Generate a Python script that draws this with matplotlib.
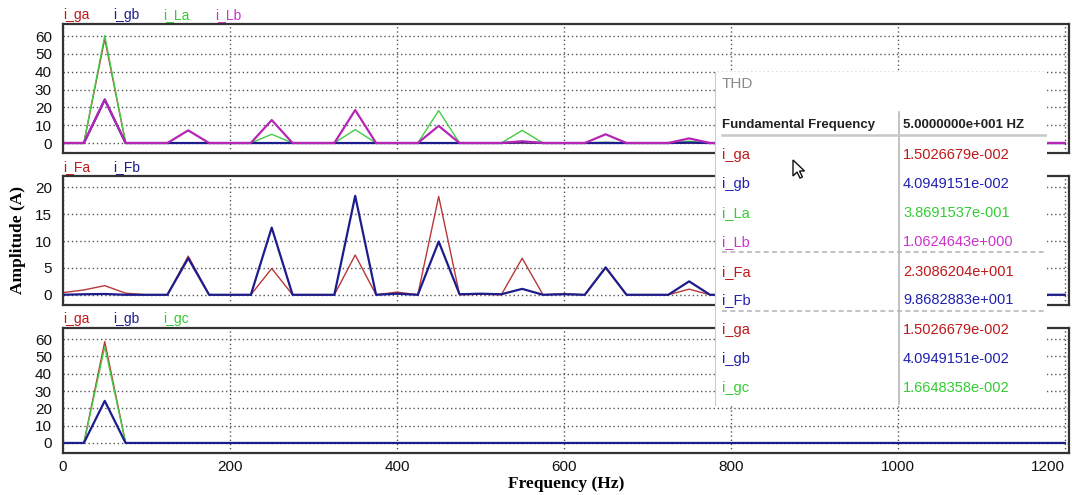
import numpy as np
import matplotlib
matplotlib.use("Agg")
import matplotlib.pyplot as plt
from matplotlib.patches import Polygon

plt.rcParams['font.family'] = ['Liberation Sans', 'DejaVu Sans']

# frequency axis, 25 Hz steps from 0 to 1200
freq = np.arange(0, 1201, 25)

# top panel
i_ga1 = [0, 0, 58.5, 0, 0, 0, 0, 0, 0, 0, 0, 0, 0, 0, 0, 0, 0, 0, 0, 0, 0, 0, 0, 0, 0,
         0, 0, 0, 0, 0, 0, 0, 0, 0, 0, 0, 0, 0, 0, 0, 0, 0, 0, 0, 0, 0, 0, 0, 0]
i_gb1 = [0, 0, 24.3, 0, 0, 0, 0, 0, 0, 0, 0, 0, 0, 0, 0, 0, 0, 0, 0, 0, 0, 0, 0.4, 0, 0,
         0, 0, 0, 0, 0, 0.2, 0, 0, 0, 0, 0, 0, 0, 0, 0, 0, 0, 0, 0, 0, 0, 0, 0, 0]
i_La1 = [0, 0, 60.3, 0, 0, 0, 0, 0, 0, 0, 4.9, 0, 0, 0, 7.5, 0, 0, 0, 18.2, 0, 0, 0, 7.1, 0, 0,
         0, 0.5, 0, 0, 0, 1.0, 0, 0, 0, 0, 0, 0, 0, 0, 0, 0, 0, 0, 0, 0, 0, 0, 0, 0]
i_Lb1 = [0, 0, 24.5, 0, 0, 0, 7.1, 0, 0, 0, 12.9, 0, 0, 0, 18.5, 0, 0, 0, 9.6, 0, 0, 0, 1.0, 0, 0,
         0, 4.9, 0, 0, 0, 2.6, 0, 0, 0, 0, 0, 0, 0, 0, 0, 0, 0, 0, 0, 0, 0, 0, 0, 0]

# middle panel
i_Fa = [0.4, 0.9, 1.7, 0.3, 0, 0, 7.2, 0, 0, 0, 4.9, 0, 0, 0, 7.4, 0, 0.5, 0, 18.3, 0, 0.1, 0, 6.8, 0, 0.2,
        0, 5.0, 0, 0, 0, 1.05, 0, 0, 0, 0, 0, 0, 0, 0, 0, 0, 0, 0, 0, 0, 0, 0, 0, 0]
i_Fb = [0, 0.1, 0.15, 0, 0, 0, 6.8, 0, 0, 0, 12.5, 0, 0, 0, 18.4, 0, 0.2, 0, 9.9, 0.1, 0.2, 0.1, 1.1, 0, 0.1,
        0, 5.1, 0, 0, 0, 2.5, 0, 0, 0, 0, 0, 0, 0, 0, 0, 0, 0, 0, 0, 0, 0, 0, 0, 0]

# bottom panel
i_ga3 = [0, 0, 58.5, 0, 0, 0, 0, 0, 0, 0, 0, 0, 0, 0, 0, 0, 0, 0, 0, 0, 0, 0, 0, 0, 0,
         0, 0, 0, 0, 0, 0, 0, 0, 0, 0, 0, 0, 0, 0, 0, 0, 0, 0, 0, 0, 0, 0, 0, 0]
i_gb3 = [0, 0, 24.3, 0, 0, 0, 0, 0, 0, 0, 0, 0, 0, 0, 0, 0, 0, 0, 0, 0, 0, 0, 0, 0, 0,
         0, 0, 0, 0, 0, 0, 0, 0, 0, 0, 0, 0, 0, 0, 0, 0, 0, 0, 0, 0, 0, 0, 0, 0]
i_gc3 = [0, 0, 55.6, 0, 0, 0, 0, 0, 0, 0, 0, 0, 0, 0, 0, 0, 0, 0, 0, 0, 0, 0, 0, 0, 0,
         0, 0, 0, 0, 0, 0, 0, 0, 0, 0, 0, 0, 0, 0, 0, 0, 0, 0, 0, 0, 0, 0, 0, 0]

# THD table
thd_header = ["Fundamental Frequency", "5.0000000e+001 HZ"]
thd_names = ["i_ga", "i_gb", "i_La", "i_Lb", "i_Fa", "i_Fb", "i_ga", "i_gb", "i_gc"]
thd_values = ["1.5026679e-002", "4.0949151e-002", "3.8691537e-001", "1.0624643e+000",
              "2.3086204e+001", "9.8682883e+001",
              "1.5026679e-002", "4.0949151e-002", "1.6648358e-002"]

RED = '#b83838'
NAVY = '#1c1c8c'
GREEN = '#44cc44'
MAG = '#b526b5'
txt_col = {'r': '#c01818', 'b': '#2020b0', 'g': '#33cc33', 'm': '#cc33cc'}
thd_colors = [txt_col['r'], txt_col['b'], txt_col['g'], txt_col['m'],
              txt_col['r'], txt_col['b'], txt_col['r'], txt_col['b'], txt_col['g']]

W, H = 1072, 495
fig = plt.figure(figsize=(W / 100, H / 100), dpi=100)


def px_axes(x0, y0, x1, y1):
    return fig.add_axes([x0 / W, 1 - y1 / H, (x1 - x0) / W, (y1 - y0) / H])


def style(ax, ylim, yticks, xlabels=False):
    ax.set_xlim(0, 1205)
    ax.set_ylim(*ylim)
    ax.set_yticks(yticks)
    ax.set_xticks(np.arange(0, 1201, 200))
    ax.grid(True, linestyle=(0, (1, 2)), color='#555555', linewidth=1.0)
    ax.set_axisbelow(True)
    ax.tick_params(length=0, labelsize=11, labelcolor='#111111')
    ax.tick_params(axis='y', pad=8)
    ax.tick_params(axis='x', pad=5)
    if not xlabels:
        ax.tick_params(labelbottom=False)
    else:
        ax.get_xticklabels()[-1].set_ha('right')
        ax.get_xticklabels()[-1].set_x(1205)
    for s in ax.spines.values():
        s.set_color('#333333')
        s.set_linewidth(1.6)


def names(ax, labels):
    offs = [0, 50, 100, 152]
    for (lab, col), o in zip(labels, offs):
        ax.text(o / 1006, 1.0 + 2.0 / ax.bbox.height, lab, color=col, fontsize=10,
                transform=ax.transAxes, va='bottom', ha='left', zorder=5)


# top
ax1 = px_axes(63, 24, 1069, 153)
ax1.plot(freq, i_ga1, color=RED, lw=1.0)
ax1.plot(freq, i_La1, color=GREEN, lw=1.0)
ax1.plot(freq, i_gb1, color=NAVY, lw=1.6)
ax1.plot(freq, i_Lb1, color=MAG, lw=1.6)
style(ax1, (-5.6, 66.8), np.arange(0, 61, 10))
names(ax1, [("i_ga", txt_col['r']), ("i_gb", NAVY), ("i_La", txt_col['g']), ("i_Lb", txt_col['m'])])

# middle
ax2 = px_axes(63, 176, 1069, 305)
ax2.plot(freq, i_Fa, color=RED, lw=1.0)
ax2.plot(freq, i_Fb, color=NAVY, lw=1.6)
style(ax2, (-1.9, 22.1), np.arange(0, 21, 5))
names(ax2, [("i_Fa", txt_col['r']), ("i_Fb", NAVY)])

# bottom
ax3 = px_axes(63, 328, 1069, 453)
ax3.plot(freq, i_ga3, color=RED, lw=1.0)
ax3.plot(freq, i_gc3, color=GREEN, lw=1.0)
ax3.plot(freq, i_gb3, color=NAVY, lw=1.6)
style(ax3, (-5.8, 66.4), np.arange(0, 61, 10), xlabels=True)
names(ax3, [("i_ga", txt_col['r']), ("i_gb", NAVY), ("i_gc", txt_col['g'])])

fig.text(18 / W, 1 - 240 / H, "Amplitude (A)", rotation=90, ha='center', va='center',
         family='Liberation Serif', fontweight='bold', fontsize=12.5)
fig.text(566 / W, 1 - 484 / H, "Frequency (Hz)", ha='center', va='center',
         family='Liberation Serif', fontweight='bold', fontsize=12.5)

# THD overlay box
tb = px_axes(715, 72, 1047, 405)
tb.set_zorder(10)
tb.set_facecolor('white')
tb.set_xlim(0, 332)
tb.set_ylim(333, 0)
tb.set_xticks([])
tb.set_yticks([])
for k, s in tb.spines.items():
    s.set_visible(k == 'left')
tb.spines['left'].set_color('#cccccc')

tb.text(7, 12, "THD", color='#8a8a8a', fontsize=11, va='center')
tb.text(7, 53, thd_header[0], color='#222222', fontsize=9.5, fontweight='bold', va='center')
tb.text(188, 53, thd_header[1], color='#222222', fontsize=9.5, fontweight='bold', va='center')
tb.plot([184, 184], [40, 333], color='#b8b8b8', lw=1.2)
tb.plot([7, 332], [63, 63], color='#c8c8c8', lw=1.8)
row_y = [83, 112, 141, 170, 200, 228, 258, 287, 316]
for y, n, v, c in zip(row_y, thd_names, thd_values, thd_colors):
    tb.text(7, y, n, color=c, fontsize=10.5, va='center')
    tb.text(188, y, v, color=c, fontsize=10.5, va='center')
for y in [180, 239]:
    tb.plot([7, 332], [y, y], color='#b8b8b8', lw=1.2, linestyle=(0, (3, 2)))

# mouse pointer left over the table
cursor = np.array([[0, 0], [0, 16], [4, 12], [7, 18], [9.5, 17], [6.5, 11], [11.5, 11]])
tb.add_patch(Polygon(cursor + [78, 88], closed=True, facecolor='white',
                     edgecolor='#111111', lw=1.0))

fig.savefig("out.png", dpi=100)
